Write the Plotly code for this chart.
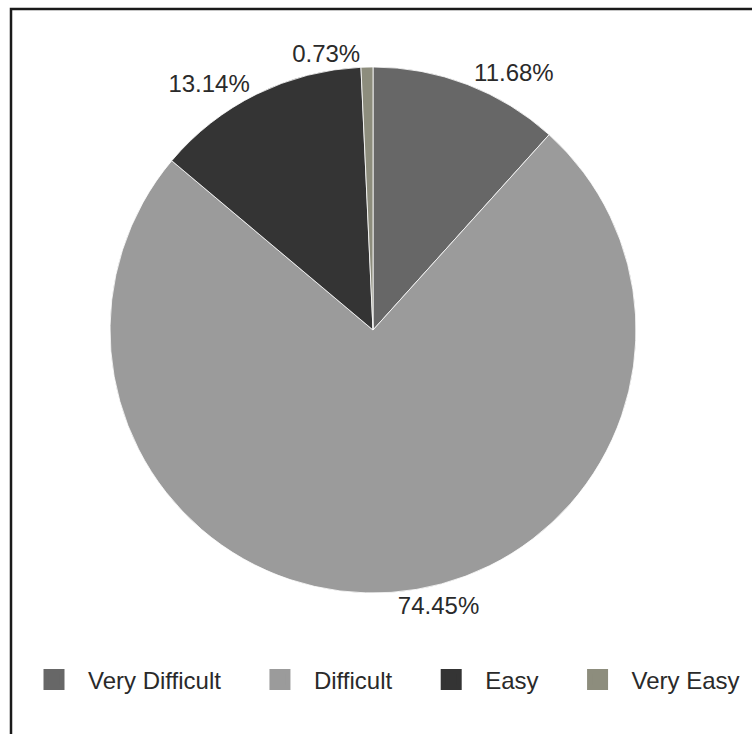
import plotly.graph_objects as go

categories = ["Very Difficult", "Difficult", "Easy", "Very Easy"]
counts = [16, 102, 18, 1]
colors = ["#676767", "#9b9b9b", "#343434", "#8d8d7d"]

W, H = 752, 734
FONT = "Liberation Sans, Arial, sans-serif"

def fx(x):
    return x / W

def fy(y):
    return 1 - y / H

fig = go.Figure()
fig.add_trace(go.Pie(
    labels=categories,
    values=counts,
    sort=False,
    direction="clockwise",
    rotation=0,
    domain=dict(x=[fx(110), fx(636)], y=[fy(593), fy(67)]),
    marker=dict(colors=colors, line=dict(color="white", width=0.8)),
    textposition="outside",
    texttemplate="%{percent:.2%}",
    textfont=dict(family=FONT, size=24, color="#2a2a2a"),
    hoverinfo="label+percent",
    showlegend=False,
))

# legend entries (larger swatches)
n = len(categories)
for i, (name, col) in enumerate(zip(categories, colors)):
    pad = "\u00a0\u00a0\u00a0" if i < n - 1 else ""
    fig.add_trace(go.Scatter(
        x=[None], y=[None], mode="markers", name=name + pad,
        marker=dict(symbol="square", size=16, color=col, line=dict(color=col, width=5)),
        showlegend=True, hoverinfo="skip",
    ))

fig.update_layout(
    width=W, height=H,
    margin=dict(l=0, r=0, t=0, b=0),
    paper_bgcolor="white",
    plot_bgcolor="white",
    xaxis=dict(visible=False),
    yaxis=dict(visible=False),
    showlegend=True,
    legend=dict(
        orientation="h",
        x=fx(20), xanchor="left",
        y=fy(680), yanchor="middle",
        font=dict(family=FONT, size=24, color="#2a2a2a"),
        itemwidth=58,
        bgcolor="rgba(0,0,0,0)",
    ),
    shapes=[dict(
        type="rect", xref="paper", yref="paper",
        x0=fx(11), x1=fx(770), y0=fy(760), y1=fy(9),
        line=dict(color="#1a1a1a", width=2.5),
    )],
)

fig.write_html("out.html")
